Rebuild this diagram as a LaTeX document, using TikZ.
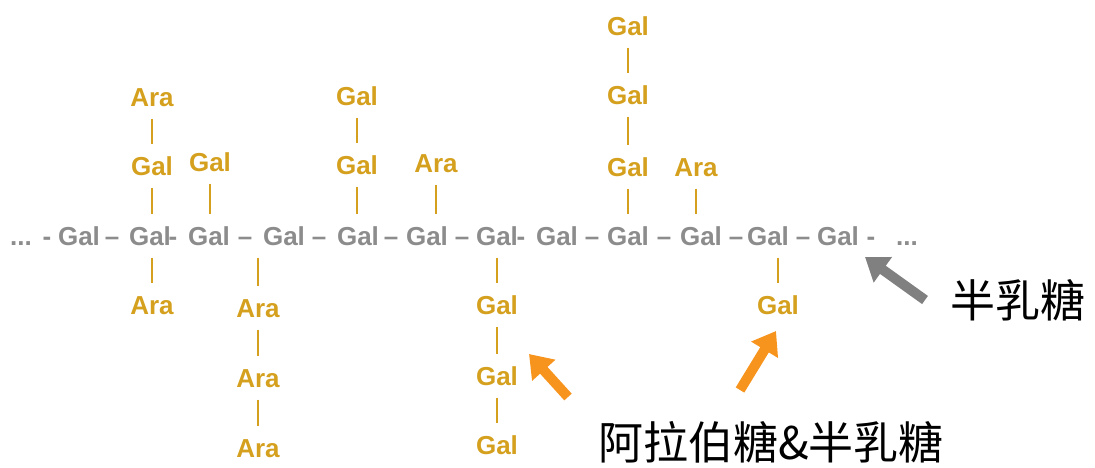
\documentclass[tikz,border=0pt]{standalone}
\usepackage{fontspec}
\setmainfont{Liberation Sans}
\newfontfamily\cjk{Noto Sans CJK SC}
\usetikzlibrary{arrows.meta}
\definecolor{chain}{RGB}{140,140,140}
\definecolor{branch}{RGB}{212,160,30}
\definecolor{arrO}{RGB}{247,148,29}
\definecolor{arrG}{RGB}{128,128,128}
\begin{document}
\begin{tikzpicture}[x=1pt,y=-1pt,
 sug/.style={font=\fontsize{26}{26}\selectfont\bfseries, inner sep=0pt, text height=18pt, text depth=0pt},
 mc/.style={sug, text=chain},
 br/.style={sug, text=branch},
 bar/.style={draw=branch, line width=2.6pt, shorten <=12.5pt, shorten >=12.5pt},
 bigarrow/.style={line width=10pt, -{Triangle[length=22pt,width=30pt]}},
 lab/.style={font=\cjk\fontsize{45}{45}\selectfont, inner sep=0pt, anchor=west}]
\useasboundingbox (0,0) rectangle (1095,467);
% main chain
\node[mc] (d0) at (21,236) {...};
\node[mc] (h0) at (47,236) {-};
\node[mc] (g1) at (79,236) {Gal};
\node[mc] (e1) at (112,236) {\textendash};
\node[mc] (g2) at (150,236) {Gal};
\node[mc] (h2) at (173,236) {-};
\node[mc] (g3) at (209,236) {Gal};
\node[mc] (e3) at (245,236) {\textendash};
\node[mc] (g4) at (284,236) {Gal};
\node[mc] (e4) at (319,236) {\textendash};
\node[mc] (g5) at (358,236) {Gal};
\node[mc] (e5) at (391,236) {\textendash};
\node[mc] (g6) at (427,236) {Gal};
\node[mc] (e6) at (462,236) {\textendash};
\node[mc] (g7) at (497,236) {Gal};
\node[mc] (h7) at (521,236) {-};
\node[mc] (g8) at (557,236) {Gal};
\node[mc] (e8) at (592,236) {\textendash};
\node[mc] (g9) at (628,236) {Gal};
\node[mc] (e9) at (664,236) {\textendash};
\node[mc] (g10) at (701,236) {Gal};
\node[mc] (e10) at (736,236) {\textendash};
\node[mc] (g11) at (768,236) {Gal};
\node[mc] (e11) at (803,236) {\textendash};
\node[mc] (g12) at (838,236) {Gal};
\node[mc] (h12) at (871,236) {-};
\node[mc] (d1) at (907,236) {...};
% branches
\node[br] (a1) at (152,97) {Ara};
\node[br] (a2) at (152,166) {Gal};
\node[br] (a3) at (152,305) {Ara};
\node[br] (b1) at (210,162) {Gal};
\node[br] (c1) at (258,308) {Ara};
\node[br] (c2) at (258,378) {Ara};
\node[br] (c3) at (258,448) {Ara};
\node[br] (k1) at (357,96) {Gal};
\node[br] (k2) at (357,165) {Gal};
\node[br] (m1) at (436,163) {Ara};
\node[br] (f1) at (497,305) {Gal};
\node[br] (f2) at (497,376) {Gal};
\node[br] (f3) at (497,445) {Gal};
\node[br] (q1) at (628,26) {Gal};
\node[br] (q2) at (628,95) {Gal};
\node[br] (q3) at (628,167) {Gal};
\node[br] (r1) at (696,167) {Ara};
\node[br] (s1) at (778,305) {Gal};
% bars
\draw[bar] (a1.south) -- (a2.north);
\draw[bar] (a2.south) -- (a2.south |- g2.north);
\draw[bar] (a3.north |- g2.south) -- (a3.north);
\draw[bar] (b1.south) -- (b1.south |- g3.north);
\draw[bar] (c1.north |- g4.south) -- (c1.north);
\draw[bar] (c1.south) -- (c2.north);
\draw[bar] (c2.south) -- (c3.north);
\draw[bar] (k1.south) -- (k2.north);
\draw[bar] (k2.south) -- (k2.south |- g5.north);
\draw[bar] (m1.south) -- (m1.south |- g6.north);
\draw[bar] (f1.north |- g7.south) -- (f1.north);
\draw[bar] (f1.south) -- (f2.north);
\draw[bar] (f2.south) -- (f3.north);
\draw[bar] (q1.south) -- (q2.north);
\draw[bar] (q2.south) -- (q3.north);
\draw[bar] (q3.south) -- (q3.south |- g9.north);
\draw[bar] (r1.south) -- (r1.south |- g10.north);
\draw[bar] (s1.north |- g11.south) -- (s1.north);
% labels
\node[lab] (l1) at (950,300) {半乳糖};
\node[lab] (l2) at (598,442) {阿拉伯糖\&半乳糖};
% arrows
\coordinate (gs) at (925,300);
\coordinate (ge) at (865,257);
\coordinate (o1s) at (568,397);
\coordinate (o1e) at (529,354);
\coordinate (o2s) at (740,390);
\coordinate (o2e) at (776,331);
\draw[bigarrow, arrG] (gs) -- (ge);
\draw[bigarrow, arrO] (o1s) -- (o1e);
\draw[bigarrow, arrO] (o2s) -- (o2e);
\end{tikzpicture}
\end{document}
